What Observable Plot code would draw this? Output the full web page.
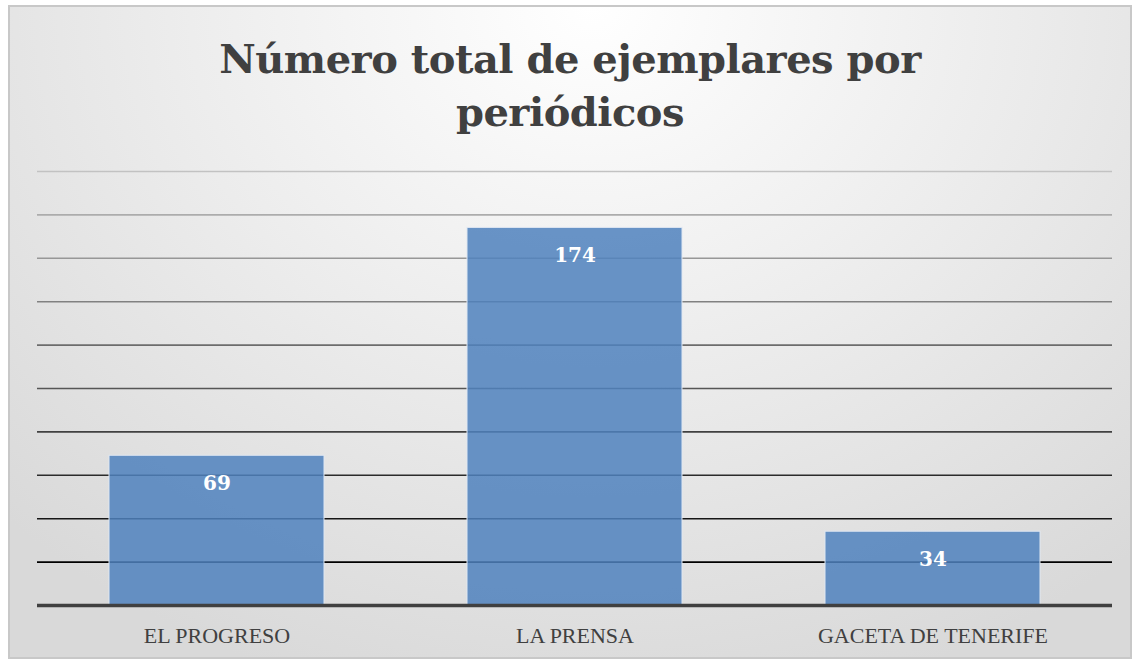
<!DOCTYPE html>
<html>
<head>
<meta charset="utf-8">
<script src="https://cdn.jsdelivr.net/npm/d3@7"></script>
<script src="https://cdn.jsdelivr.net/npm/@observablehq/plot@0.6"></script>
<style>
  html, body { margin: 0; padding: 0; background: #ffffff; }
  #frame {
    position: absolute; left: 8px; top: 5px; width: 1120px; height: 650px;
    border: 2px solid #c8c8c8;
    background: radial-gradient(ellipse 75% 110% at 52% 0%, #ffffff 0%, #f0f0f0 40%, #d9d9d9 100%);
    overflow: hidden;
  }
  #title {
    position: absolute; left: 0; top: 25px; width: 1120px;
    text-align: center;
    font-family: "DejaVu Serif", serif; font-weight: bold;
    font-size: 40px; letter-spacing: -0.5px; line-height: 53px; color: #404040;
  }
  #chart { position: absolute; left: 0; top: 142px; }
</style>
</head>
<body>
<div id="frame">
  <div id="title">Número total de ejemplares por<br>periódicos</div>
  <div id="chart"></div>
</div>
<script>
const categories = ["EL PROGRESO", "LA PRENSA", "GACETA DE TENERIFE"];
const values = [69, 174, 34];
const gridTicks = [20, 40, 60, 80, 100, 120, 140, 160, 180, 200];

const data = categories.map((c, i) => ({cat: c, value: values[i]}));
const gridColor = d3.interpolateRgb("#000000", "#c2c2c2");

const chart = Plot.plot({
  width: 1120,
  height: 508,
  marginLeft: 27,
  marginRight: 18,
  marginTop: 22,
  marginBottom: 52,
  style: {background: "transparent", fontFamily: "'Liberation Serif', serif", color: "#404040"},
  x: {domain: categories, padding: 0.4, paddingOuter: 0.2, label: null},
  y: {domain: [0, 200], axis: null},
  marks: [
    Plot.ruleY(gridTicks, {y: d => d, stroke: d => gridColor((d - 20) / 180), strokeWidth: 1.6}),
    Plot.barY(data, {x: "cat", y: "value", fill: "#4f81bd", fillOpacity: 0.85, stroke: "#dfe7f2", strokeWidth: 1}),
    Plot.ruleY([0], {stroke: "#404040", strokeWidth: 3.5}),
    Plot.text(data, {x: "cat", y: "value", text: d => String(d.value), dy: 28, fill: "white", fontWeight: "bold", fontSize: 20, fontFamily: "'DejaVu Serif', serif"}),
    Plot.axisX({tickSize: 0, tickPadding: 22, fontSize: 22, label: null})
  ]
});
document.getElementById("chart").appendChild(chart);
</script>
</body>
</html>
